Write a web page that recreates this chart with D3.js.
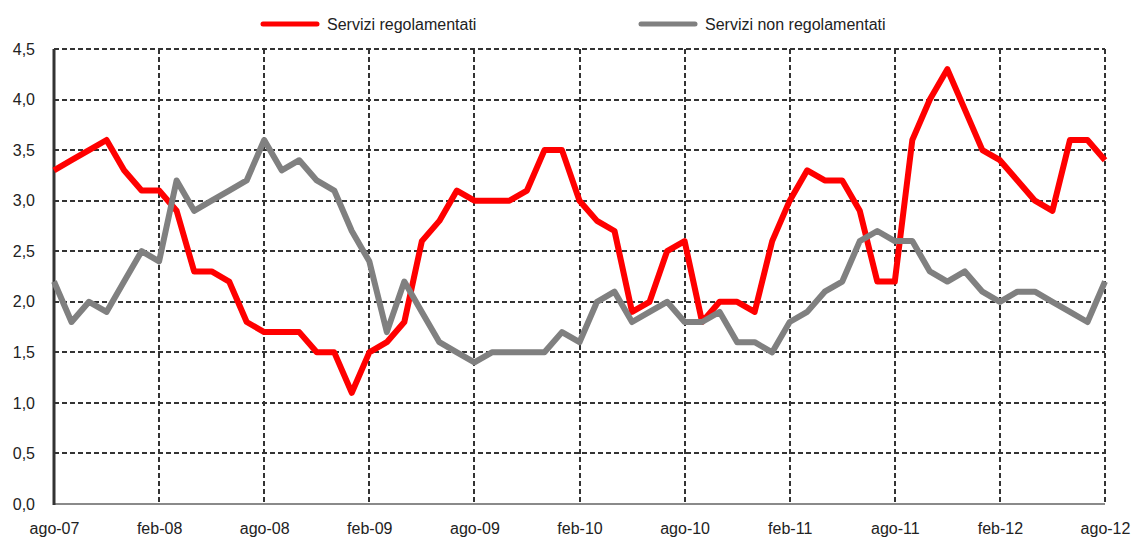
<!DOCTYPE html>
<html lang="it">
<head>
  <meta charset="utf-8">
  <script src="https://d3js.org/d3.v7.min.js"></script>
  <style>
    body {
      margin: 0;
      background: #fff;
      font-family: "Liberation Sans", Arial, sans-serif;
    }

    .axis text {
      font-size: 16px;
      fill: #222;
    }

    .grid line {
      stroke: #333;
      stroke-width: 1.5;
      stroke-dasharray: 5, 3;
      shape-rendering: crispEdges;
    }

    .legend text {
      font-size: 16px;
      fill: #222;
    }
  </style>
</head>
<body>
<div id="chart"></div>
<script>
  // months from ago-07 to ago-12
  var months = ["ago-07", "set-07", "ott-07", "nov-07", "dic-07",
    "gen-08", "feb-08", "mar-08", "apr-08", "mag-08", "giu-08", "lug-08", "ago-08", "set-08", "ott-08", "nov-08", "dic-08",
    "gen-09", "feb-09", "mar-09", "apr-09", "mag-09", "giu-09", "lug-09", "ago-09", "set-09", "ott-09", "nov-09", "dic-09",
    "gen-10", "feb-10", "mar-10", "apr-10", "mag-10", "giu-10", "lug-10", "ago-10", "set-10", "ott-10", "nov-10", "dic-10",
    "gen-11", "feb-11", "mar-11", "apr-11", "mag-11", "giu-11", "lug-11", "ago-11", "set-11", "ott-11", "nov-11", "dic-11",
    "gen-12", "feb-12", "mar-12", "apr-12", "mag-12", "giu-12", "lug-12", "ago-12"];

  var regolamentati = [3.3, 3.4, 3.5, 3.6, 3.3,
    3.1, 3.1, 2.9, 2.3, 2.3, 2.2, 1.8, 1.7, 1.7, 1.7, 1.5, 1.5,
    1.1, 1.5, 1.6, 1.8, 2.6, 2.8, 3.1, 3.0, 3.0, 3.0, 3.1, 3.5,
    3.5, 3.0, 2.8, 2.7, 1.9, 2.0, 2.5, 2.6, 1.8, 2.0, 2.0, 1.9,
    2.6, 3.0, 3.3, 3.2, 3.2, 2.9, 2.2, 2.2, 3.6, 4.0, 4.3, 3.9,
    3.5, 3.4, 3.2, 3.0, 2.9, 3.6, 3.6, 3.4];

  var nonRegolamentati = [2.2, 1.8, 2.0, 1.9, 2.2,
    2.5, 2.4, 3.2, 2.9, 3.0, 3.1, 3.2, 3.6, 3.3, 3.4, 3.2, 3.1,
    2.7, 2.4, 1.7, 2.2, 1.9, 1.6, 1.5, 1.4, 1.5, 1.5, 1.5, 1.5,
    1.7, 1.6, 2.0, 2.1, 1.8, 1.9, 2.0, 1.8, 1.8, 1.9, 1.6, 1.6,
    1.5, 1.8, 1.9, 2.1, 2.2, 2.6, 2.7, 2.6, 2.6, 2.3, 2.2, 2.3,
    2.1, 2.0, 2.1, 2.1, 2.0, 1.9, 1.8, 2.2];

  var yTicks = [0, 0.5, 1, 1.5, 2, 2.5, 3, 3.5, 4, 4.5];
  var xTickLabels = ["ago-07", "feb-08", "ago-08", "feb-09", "ago-09", "feb-10", "ago-10", "feb-11", "ago-11", "feb-12", "ago-12"];

  var series = [
    {name: "Servizi regolamentati", values: regolamentati, color: "#ff0000"},
    {name: "Servizi non regolamentati", values: nonRegolamentati, color: "#808080"}
  ];

  var margin = {top: 49, right: 31, bottom: 36, left: 54},
          width = 1136 - margin.left - margin.right,
          height = 540 - margin.top - margin.bottom;

  var svg = d3.select("#chart").append("svg")
          .attr("width", 1136)
          .attr("height", 540)
          .append("g")
          .attr("transform", "translate(" + margin.left + "," + margin.top + ")");

  var x = d3.scalePoint().domain(months).range([0, width]);
  var y = d3.scaleLinear().domain([0, 4.5]).range([height, 0]);

  // dashed grid
  svg.append("g").attr("class", "grid")
          .selectAll("line").data(yTicks.slice(1)).enter().append("line")
          .attr("x1", 0).attr("x2", width)
          .attr("y1", function(d) { return Math.round(y(d)); })
          .attr("y2", function(d) { return Math.round(y(d)); });

  svg.append("g").attr("class", "grid")
          .selectAll("line").data(xTickLabels.slice(1)).enter().append("line")
          .attr("x1", function(d) { return Math.round(x(d)); })
          .attr("x2", function(d) { return Math.round(x(d)); })
          .attr("y1", 0).attr("y2", height);

  // axes
  var yAxis = d3.axisLeft(y).tickValues(yTicks).tickSize(0).tickPadding(19)
          .tickFormat(function(d) { return d3.format(".1f")(d).replace(".", ","); });
  var gY = svg.append("g").attr("class", "axis").call(yAxis);
  gY.select(".domain").remove();

  var xAxis = d3.axisBottom(x).tickValues(xTickLabels).tickSize(0).tickPadding(19);
  var gX = svg.append("g").attr("class", "axis")
          .attr("transform", "translate(0," + height + ")")
          .call(xAxis);
  gX.select(".domain").remove();

  svg.append("line")
          .attr("x1", 0).attr("x2", width)
          .attr("y1", height).attr("y2", height)
          .style("stroke", "#8a8a8a").style("stroke-width", 2);
  svg.append("line")
          .attr("x1", 0).attr("x2", 0)
          .attr("y1", 0).attr("y2", height + 1)
          .style("stroke", "#333").style("stroke-width", 3);

  var line = d3.line()
          .x(function(d, i) { return x(months[i]); })
          .y(function(d) { return y(d); });

  svg.selectAll(".series")
          .data(series).enter().append("path")
          .attr("class", "series")
          .attr("d", function(d) { return line(d.values); })
          .style("fill", "none")
          .style("stroke", function(d) { return d.color; })
          .style("stroke-width", 6)
          .style("stroke-linejoin", "round");

  // legend
  var legend = d3.select("svg").append("g").attr("class", "legend");
  var legendX = [263, 641];
  var item = legend.selectAll("g").data(series).enter().append("g")
          .attr("transform", function(d, i) { return "translate(" + legendX[i] + ",24)"; });
  item.append("line")
          .attr("x1", 0).attr("x2", 54)
          .style("stroke", function(d) { return d.color; })
          .style("stroke-width", 5)
          .style("stroke-linecap", "round");
  item.append("text")
          .attr("x", 64).attr("dy", "0.35em")
          .text(function(d) { return d.name; });
</script>
</body>
</html>
